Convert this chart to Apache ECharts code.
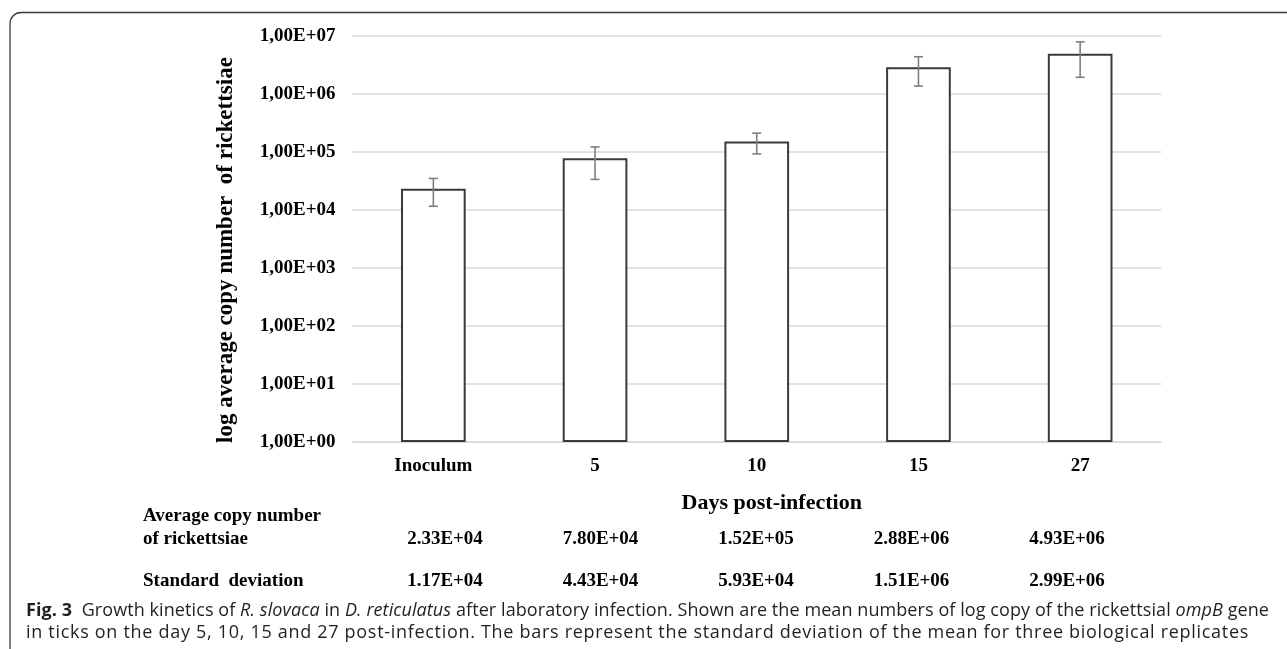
<!DOCTYPE html>
<html><head><meta charset="utf-8">
<script src="https://cdn.jsdelivr.net/npm/echarts@6/dist/echarts.min.js"></script>
<style>
html,body{margin:0;padding:0;background:#fff;}
#wrap{position:relative;width:1287px;height:649px;overflow:hidden;}
#c{width:1287px;height:649px;}
.cap{position:absolute;left:26px;font-family:"Open Sans","Noto Sans",sans-serif;font-size:18px;color:#231f20;line-height:22px;white-space:nowrap;}
#cap1{top:598px;}
#cap2{top:620px;}
</style>
</head><body><div id="wrap"><div id="c"></div>
<div class="cap" id="cap1"></div>
<div class="cap" id="cap2"></div></div>
<script>
const categories = ['Inoculum', '5', '10', '15', '27'];
const meanCopies = [2.33e4, 7.80e4, 1.52e5, 2.88e6, 4.93e6];
const stdDev = [1.17e4, 4.43e4, 5.93e4, 1.51e6, 2.99e6];
const meanLabels = ['2.33E+04', '7.80E+04', '1.52E+05', '2.88E+06', '4.93E+06'];
const sdLabels = ['1.17E+04', '4.43E+04', '5.93E+04', '1.51E+06', '2.99E+06'];
const yTickLabels = ['1,00E+00', '1,00E+01', '1,00E+02', '1,00E+03', '1,00E+04', '1,00E+05', '1,00E+06', '1,00E+07'];
const yAxisTitle = 'log average copy number  of rickettsiae';
const xAxisTitle = 'Days post-infection';
const rowTitleMean = 'Average copy number\nof rickettsiae';
const rowTitleSd = 'Standard  deviation';
const captionLine1 = '<b>Fig. 3</b>&nbsp; Growth kinetics of <i>R. slovaca</i> in <i>D. reticulatus</i> after laboratory infection. Shown are the mean numbers of log copy of the rickettsial <i>ompB</i> gene';
const captionLine2 = 'in ticks on the day 5, 10, 15 and 27 post-infection. The bars represent the standard deviation of the mean for three biological replicates';

// caption (fit each line to its measured width in the reference)
function fitLine(el, target) {
  const w = el.getBoundingClientRect().width;
  const n = el.textContent.length;
  el.style.letterSpacing = ((target - w) / n).toFixed(3) + 'px';
}
const cap1 = document.getElementById('cap1');
const cap2 = document.getElementById('cap2');
cap1.innerHTML = captionLine1;
cap2.textContent = captionLine2;
fitLine(cap1, 1243);
fitLine(cap2, 1223);

const SERIF = '"Liberation Serif", "Times New Roman", serif';

const chart = echarts.init(document.getElementById('c'), null, {renderer: 'canvas'});

const errData = categories.map((c, i) => [i, meanCopies[i] - stdDev[i], meanCopies[i] + stdDev[i]]);

const graphics = [];
// frame (rounded top-left corner)
graphics.push({type: 'rect', shape: {x: 10, y: 12.5, width: 1400, height: 800, r: 11},
  style: {fill: 'none', stroke: '#3a3a3a', lineWidth: 1.3}, silent: true});
// table row titles
graphics.push({type: 'text', x: 143, y: 528, style: {text: rowTitleMean, font: 'bold 19px ' + SERIF,
  fill: '#000', align: 'left', verticalAlign: 'middle', lineHeight: 23}});
graphics.push({type: 'text', x: 143, y: 581, style: {text: rowTitleSd, font: 'bold 19px ' + SERIF,
  fill: '#000', align: 'left', verticalAlign: 'middle'}});
for (let i = 0; i < categories.length; i++) {
  const cx = 445 + i * 155.5;
  graphics.push({type: 'text', x: cx, y: 539, style: {text: meanLabels[i], font: 'bold 19px ' + SERIF,
    fill: '#000', align: 'center', verticalAlign: 'middle'}});
  graphics.push({type: 'text', x: cx, y: 581, style: {text: sdLabels[i], font: 'bold 19px ' + SERIF,
    fill: '#000', align: 'center', verticalAlign: 'middle'}});
}

chart.setOption({
  animation: false,
  backgroundColor: 'transparent',
  grid: {left: 352.5, right: 126, top: 36, bottom: 207, containLabel: false},
  xAxis: {
    type: 'category', data: categories,
    axisLine: {lineStyle: {color: '#d9d9d9', width: 1.5}},
    axisTick: {show: false},
    axisLabel: {fontFamily: SERIF, fontWeight: 'bold', fontSize: 19, color: '#000', margin: 15},
    name: xAxisTitle, nameLocation: 'middle', nameGap: 50,
    nameTextStyle: {fontFamily: SERIF, fontWeight: 'bold', fontSize: 22, color: '#000', padding: [0, 0, 0, 30]}
  },
  yAxis: {
    type: 'log', logBase: 10, min: 1, max: 1e7, interval: 1,
    axisLine: {show: false}, axisTick: {show: false},
    splitLine: {lineStyle: {color: '#d9d9d9', width: 1.5}},
    axisLabel: {fontFamily: SERIF, fontWeight: 'bold', fontSize: 19, color: '#000', margin: 17,
      formatter: v => yTickLabels[Math.round(Math.log10(v))]},
    name: yAxisTitle, nameLocation: 'middle', nameRotate: 90, nameGap: 115,
    nameTextStyle: {fontFamily: SERIF, fontWeight: 'bold', fontSize: 23, color: '#000', padding: [0, 22, 0, 0]}
  },
  series: [
    {type: 'bar', data: meanCopies, barWidth: '40%',
      itemStyle: {color: '#fff', borderColor: '#3a3a3a', borderWidth: 2}},
    {type: 'custom', data: errData, encode: {x: 0, y: [1, 2]}, z: 5,
      renderItem: function (params, api) {
        const lo = api.coord([api.value(0), api.value(1)]);
        const hi = api.coord([api.value(0), api.value(2)]);
        const w = 4.5;
        const st = {stroke: '#7f7f7f', lineWidth: 1.6};
        return {type: 'group', children: [
          {type: 'line', shape: {x1: lo[0], y1: lo[1], x2: hi[0], y2: hi[1]}, style: st},
          {type: 'line', shape: {x1: lo[0] - w, y1: lo[1], x2: lo[0] + w, y2: lo[1]}, style: st},
          {type: 'line', shape: {x1: hi[0] - w, y1: hi[1], x2: hi[0] + w, y2: hi[1]}, style: st}
        ]};
      }}
  ],
  graphic: graphics
});
</script></body></html>
